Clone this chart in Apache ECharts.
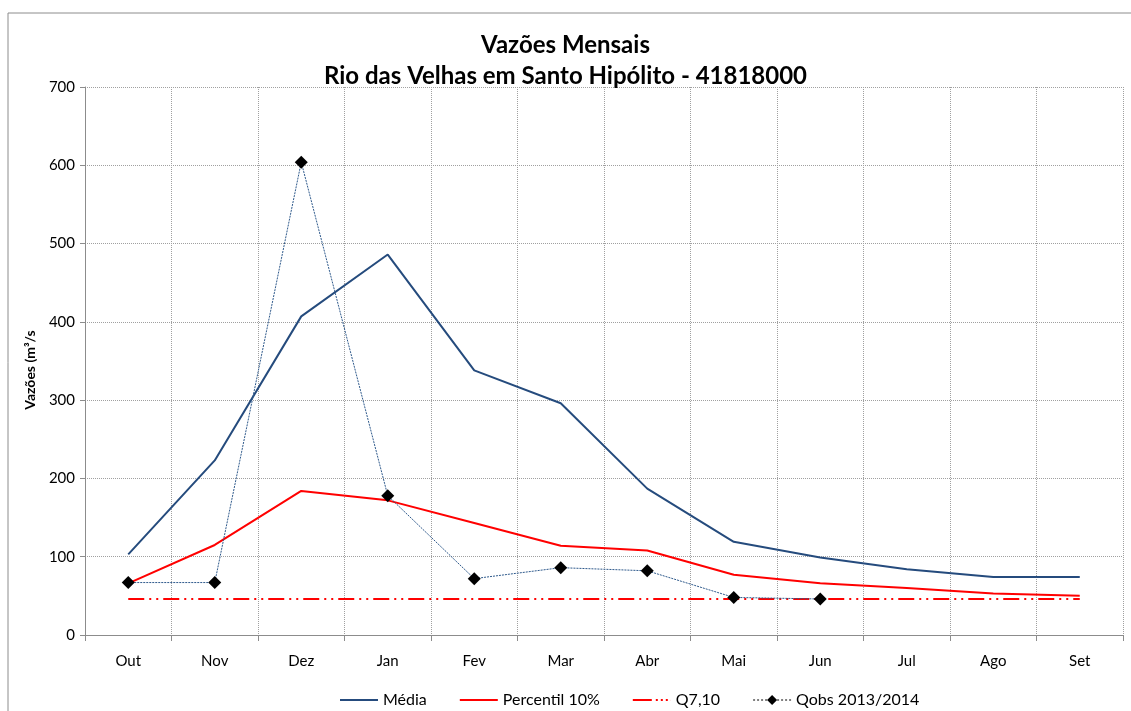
<!DOCTYPE html>
<html>
<head>
<meta charset="utf-8">
<script src="https://cdn.jsdelivr.net/npm/echarts@6/dist/echarts.min.js"></script>
<style>
  html, body { margin: 0; padding: 0; background: #fff; }
  #chart { width: 1131px; height: 711px; }
</style>
</head>
<body>
<div id="chart"></div>
<script>
const months = ['Out', 'Nov', 'Dez', 'Jan', 'Fev', 'Mar', 'Abr', 'Mai', 'Jun', 'Jul', 'Ago', 'Set'];
const media = [103, 223, 407, 486, 338, 296, 187, 119, 99, 84, 74, 74];
const percentil10 = [66, 115, 184, 172, 143, 114, 108, 77, 66, 60, 53, 50];
const q710 = [46, 46, 46, 46, 46, 46, 46, 46, 46, 46, 46, 46];
const qobs = [67, 67, 604, 178, 72, 86, 82, 48, 46, null, null, null];

const font = 'Lato, "Open Sans", sans-serif';
const chart = echarts.init(document.getElementById('chart'));

// legend icons drawn as thin paths
const solidIcon = 'path://M0,0L38,0L38,2L0,2Z';
const dashDotIcon = 'path://M0,0L19,0L19,2L0,2Z M23,0L25,0L25,2L23,2Z M28,0L30,0L30,2L28,2Z M33,0L35,0L35,2L33,2Z M38,0L38,2L37.9,2Z';
const qobsIcon = 'path://M0,4.5L2,4.5L2,5.5L0,5.5Z M4,4.5L6,4.5L6,5.5L4,5.5Z M8,4.5L10,4.5L10,5.5L8,5.5Z M12,4.5L14,4.5L14,5.5L12,5.5Z' +
  ' M19,0L24,5L19,10L14,5Z' +
  ' M24,4.5L26,4.5L26,5.5L24,5.5Z M28,4.5L30,4.5L30,5.5L28,5.5Z M32,4.5L34,4.5L34,5.5L32,5.5Z M36,4.5L38,4.5L38,5.5L36,5.5Z';

chart.setOption({
  animation: false,
  backgroundColor: '#fff',
  textStyle: { fontFamily: font },
  graphic: [{
    type: 'rect',
    shape: { x: 8, y: 13, width: 1140, height: 720 },
    style: { fill: 'none', stroke: '#8c8c8c', lineWidth: 1 }
  }],
  title: {
    text: 'Vazões Mensais\nRio das Velhas em Santo Hipólito - 41818000',
    left: 'center',
    top: 25,
    textStyle: { fontFamily: font, fontSize: 24, fontWeight: 'bold', color: '#000', lineHeight: 31 }
  },
  grid: { left: 85, right: 8, top: 87, bottom: 76 },
  legend: {
    top: 687,
    left: 335,
    itemGap: 33,
    itemWidth: 38,
    itemHeight: 12,
    textStyle: { fontFamily: font, fontSize: 16, color: '#000' },
    data: [
      { name: 'Média', icon: solidIcon },
      { name: 'Percentil 10%', icon: solidIcon },
      { name: 'Q7,10', icon: dashDotIcon },
      { name: 'Qobs 2013/2014', icon: qobsIcon }
    ]
  },
  xAxis: {
    type: 'category',
    data: months,
    boundaryGap: true,
    axisLine: { lineStyle: { color: '#8c8c8c' } },
    axisTick: { show: true, alignWithLabel: false, length: 6, lineStyle: { color: '#8c8c8c' } },
    axisLabel: { color: '#000', fontSize: 15, margin: 19, fontFamily: font },
    splitLine: { show: true, lineStyle: { color: '#a0a0a0', type: [1, 1] } }
  },
  yAxis: {
    type: 'value',
    min: 0,
    max: 700,
    interval: 100,
    name: 'Vazões (m³/s',
    nameLocation: 'middle',
    nameGap: 48,
    nameTextStyle: { fontFamily: font, fontSize: 14, fontWeight: 'bold', color: '#000', padding: [0, 0, 0, -18] },
    axisLine: { show: true, lineStyle: { color: '#8c8c8c' } },
    axisTick: { show: true, length: 5, lineStyle: { color: '#8c8c8c' } },
    axisLabel: { color: '#000', fontSize: 15, margin: 10, fontFamily: font },
    splitLine: { show: true, lineStyle: { color: '#a0a0a0', type: [1, 1] } }
  },
  series: [
    {
      name: 'Média',
      type: 'line',
      data: media,
      symbol: 'none',
      color: '#254b7d',
      lineStyle: { width: 2, color: '#254b7d' }
    },
    {
      name: 'Percentil 10%',
      type: 'line',
      data: percentil10,
      symbol: 'none',
      color: '#ff0000',
      lineStyle: { width: 2, color: '#ff0000' }
    },
    {
      name: 'Q7,10',
      type: 'line',
      data: q710,
      symbol: 'none',
      color: '#ff0000',
      lineStyle: { width: 2, color: '#ff0000', type: [16, 5, 2, 5, 2, 5] }
    },
    {
      name: 'Qobs 2013/2014',
      type: 'line',
      data: qobs,
      symbol: 'diamond',
      symbolSize: 13,
      color: '#000',
      itemStyle: { color: '#000' },
      lineStyle: { width: 1, color: '#2f5a8c', type: [2, 1] }
    }
  ]
});
</script>
</body>
</html>
